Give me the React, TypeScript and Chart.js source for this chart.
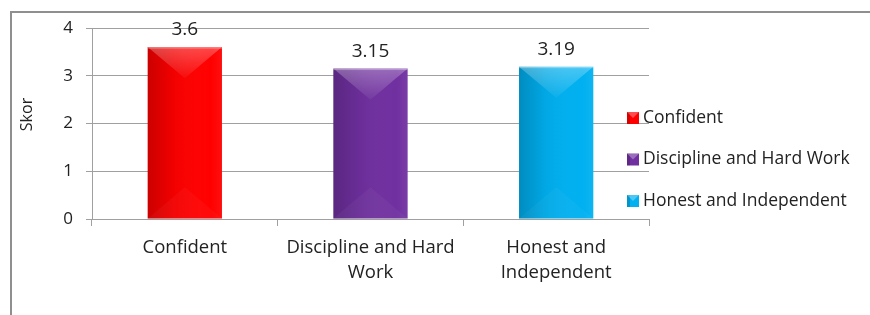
import React, { useEffect, useRef } from "react";
import { Chart, registerables } from "chart.js";

Chart.register(...registerables);

// ---- data ----
const categories: string[][] = [["Confident"], ["Discipline and Hard", "Work"], ["Honest and", "Independent"]];
const legendLabels: string[] = ["Confident", "Discipline and Hard Work", "Honest and Independent"];
const scores: number[] = [3.6, 3.15, 3.19];
const valueLabels: string[] = ["3.6", "3.15", "3.19"];
const yTicks: number[] = [0, 1, 2, 3, 4];
const axisTitle = "Skor";

// ---- styles ----
const barColors = ["#FF0000", "#7030A0", "#00B0F0"];
const FONT = '"Open Sans", "DejaVu Sans", sans-serif';
const TEXT = "#222222";
const GRID = "#a0a0a0";

const bevelPlugin = {
  id: "bevel",
  afterDatasetsDraw(chart: any) {
    const ctx: CanvasRenderingContext2D = chart.ctx;
    const meta = chart.getDatasetMeta(0);
    meta.data.forEach((el: any) => {
      const { x, y, base, width } = el.getProps(["x", "y", "base", "width"], true);
      const l = x - width / 2;
      const r = x + width / 2;
      const t = y;
      const b = base;
      const h = b - t;
      const bev = Math.min(width * 0.42, h / 2);
      ctx.save();
      // side shading
      const g = ctx.createLinearGradient(l, 0, r, 0);
      g.addColorStop(0, "rgba(0,0,0,0.2)");
      g.addColorStop(0.35, "rgba(0,0,0,0.05)");
      g.addColorStop(0.85, "rgba(255,255,255,0.0)");
      g.addColorStop(1, "rgba(255,255,255,0.06)");
      ctx.fillStyle = g;
      ctx.fillRect(l, t, width, h);
      // top triangle highlight
      ctx.beginPath();
      ctx.moveTo(l, t);
      ctx.lineTo(r, t);
      ctx.lineTo(x, t + bev);
      ctx.closePath();
      const tg = ctx.createLinearGradient(0, t, 0, t + bev);
      tg.addColorStop(0, "rgba(255,255,255,0.28)");
      tg.addColorStop(1, "rgba(255,255,255,0.04)");
      ctx.fillStyle = tg;
      ctx.fill();
      // bottom triangle subtle
      ctx.beginPath();
      ctx.moveTo(l, b);
      ctx.lineTo(r, b);
      ctx.lineTo(x, b - bev);
      ctx.closePath();
      ctx.fillStyle = "rgba(255,255,255,0.035)";
      ctx.fill();
      // top edge highlight
      ctx.fillStyle = "rgba(255,255,255,0.3)";
      ctx.fillRect(l, t, width, 1.5);
      ctx.restore();
    });
  },
};

const labelPlugin = {
  id: "valueLabels",
  afterDatasetsDraw(chart: any) {
    const ctx: CanvasRenderingContext2D = chart.ctx;
    const meta = chart.getDatasetMeta(0);
    ctx.save();
    ctx.font = `19px ${FONT}`;
    ctx.fillStyle = TEXT;
    ctx.textAlign = "center";
    ctx.textBaseline = "alphabetic";
    meta.data.forEach((el: any, i: number) => {
      ctx.fillText(valueLabels[i], el.x, el.y - 12);
    });
    ctx.restore();
  },
};

const legendPlugin = {
  id: "sideLegend",
  afterDraw(chart: any) {
    const ctx: CanvasRenderingContext2D = chart.ctx;
    const ca = chart.chartArea;
    const boxX = ca.right - 22;
    const midY = (ca.top + ca.bottom) / 2 + 36;
    const gap = 41.5;
    ctx.save();
    ctx.font = `17.5px ${FONT}`;
    ctx.textAlign = "left";
    ctx.textBaseline = "middle";
    legendLabels.forEach((lab, i) => {
      const cy = midY + (i - 1) * gap;
      ctx.fillStyle = barColors[i];
      ctx.fillRect(boxX, cy - 6, 12, 12);
      ctx.fillStyle = "rgba(0,0,0,0.15)";
      ctx.fillRect(boxX, cy - 6, 3, 12);
      ctx.fillStyle = "rgba(255,255,255,0.3)";
      ctx.beginPath();
      ctx.moveTo(boxX, cy - 6);
      ctx.lineTo(boxX + 12, cy - 6);
      ctx.lineTo(boxX + 6, cy);
      ctx.closePath();
      ctx.fill();
      ctx.fillStyle = TEXT;
      ctx.fillText(lab, boxX + 16, cy);
    });
    ctx.restore();
  },
};

const titlePlugin = {
  id: "yTitle",
  afterDraw(chart: any) {
    const ctx: CanvasRenderingContext2D = chart.ctx;
    const ca = chart.chartArea;
    ctx.save();
    ctx.translate(ca.left - 65, (ca.top + ca.bottom) / 2 - 9);
    ctx.rotate(-Math.PI / 2);
    ctx.font = `16px ${FONT}`;
    ctx.fillStyle = TEXT;
    ctx.textAlign = "center";
    ctx.textBaseline = "middle";
    ctx.fillText(axisTitle, 0, 0);
    ctx.restore();
  },
};

export default function App() {
  const ref = useRef<HTMLCanvasElement | null>(null);

  useEffect(() => {
    if (!ref.current) return;
    const chart = new Chart(ref.current, {
      type: "bar",
      data: {
        labels: categories,
        datasets: [
          {
            label: axisTitle,
            data: scores,
            backgroundColor: barColors,
            borderWidth: 0,
            barPercentage: 0.4,
            categoryPercentage: 1,
          },
        ],
      },
      options: {
        animation: false,
        responsive: false,
        maintainAspectRatio: false,
        devicePixelRatio: 1,
        layout: { padding: { left: 19, top: 28, right: 221, bottom: 0 } },
        plugins: {
          legend: { display: false },
          tooltip: { enabled: false },
        },
        scales: {
          x: {
            offset: true,
            grid: {
              display: true,
              drawOnChartArea: false,
              drawTicks: true,
              tickLength: 7,
              color: GRID,
            },
            border: { display: true, color: GRID, width: 1 },
            ticks: {
              color: TEXT,
              font: { family: FONT, size: 18.5, lineHeight: 1.37 },
              padding: 9,
              maxRotation: 0,
              autoSkip: false,
            },
            afterFit: (s: any) => {
              s.height = 96;
            },
          },
          y: {
            min: 0,
            max: 4,
            afterBuildTicks: (s: any) => {
              s.ticks = yTicks.map((v) => ({ value: v }));
            },
            grid: {
              color: GRID,
              drawTicks: true,
              tickLength: 6,
            },
            border: { display: true, color: GRID, width: 1 },
            ticks: {
              color: TEXT,
              font: { family: FONT, size: 17 },
              padding: 13,
            },
            afterFit: (s: any) => {
              s.width = 73;
            },
          },
        },
      },
      plugins: [bevelPlugin, labelPlugin, legendPlugin, titlePlugin],
    });
    return () => chart.destroy();
  }, []);

  return (
    <div
      style={{
        position: "absolute",
        left: 0,
        top: 0,
        width: 870,
        height: 315,
        overflow: "hidden",
        background: "#fff",
      }}
    >
      <div
        style={{
          position: "absolute",
          left: 10,
          top: 11,
          width: 900,
          height: 400,
          borderLeft: "2px solid #8f8f8f",
          borderTop: "2px solid #8f8f8f",
        }}
      />
      <canvas
        ref={ref}
        width={870}
        height={315}
        style={{ position: "absolute", left: 0, top: 0, width: 870, height: 315 }}
      />
    </div>
  );
}
